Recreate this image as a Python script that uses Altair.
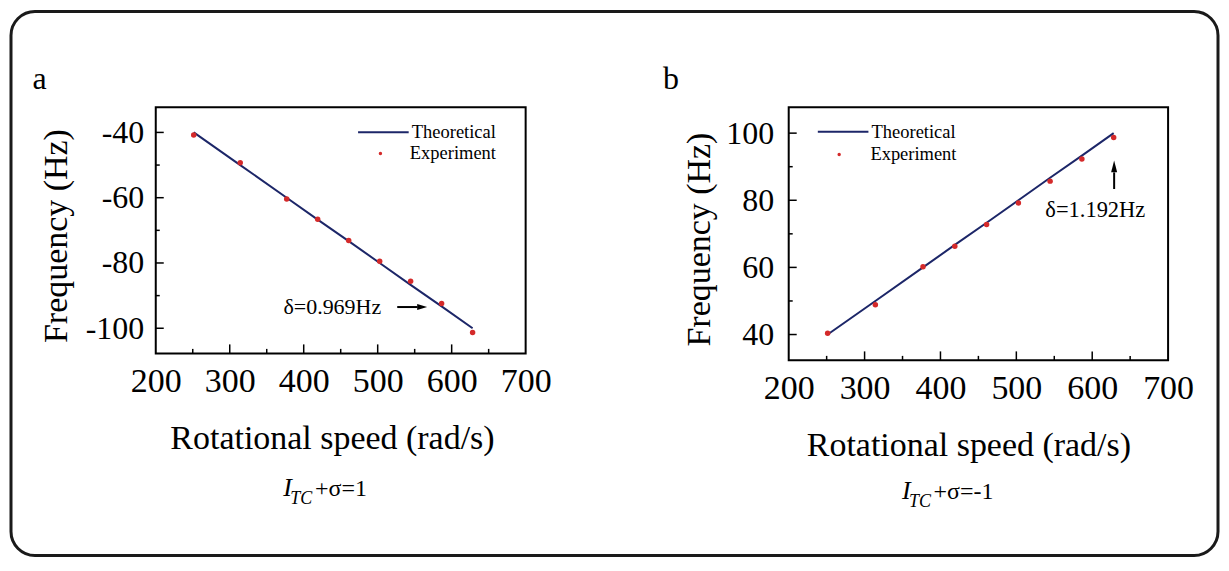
import altair as alt
import pandas as pd

# ---------------- data ----------------
speed = [251.3, 314.2, 377.0, 418.9, 460.8, 502.7, 544.5, 586.4, 628.3]
theory_a = [-40.0, -50.0, -60.0, -66.7, -73.3, -80.0, -86.7, -93.3, -100.0]
exp_a = [-40.8, -49.3, -60.4, -66.6, -73.1, -79.5, -85.6, -92.4, -101.3]
theory_b = [40.0, 50.0, 60.0, 66.7, 73.3, 80.0, 86.7, 93.3, 100.0]
exp_b = [40.4, 48.9, 60.2, 66.3, 72.8, 79.2, 85.7, 92.3, 98.7]

x_labels = [200, 300, 400, 500, 600, 700]
x_major = [300, 400, 500, 600]
x_minor = [250, 350, 450, 550, 650]
ya_major = [-40, -60, -80, -100]
ya_minor = [-50, -70, -90]
yb_major = [40, 60, 80, 100]
yb_minor = [50, 70, 90]
ya_domain = [-107.7, -32.3]
yb_domain = [32.3, 107.7]
x_domain = [200, 700]

ann_a_label = ["δ=0.969Hz"]
ann_a_x = [372.6]
ann_a_y = [-93.4]
arrow_a_x = [526.4]
arrow_a_x2 = [553.8]
arrow_a_y = [-93.5]
head_a_x = [560.1]
head_a_y = [-93.5]

ann_b_label = ["δ=1.192Hz"]
ann_b_x = [538.2]
ann_b_y = [77.0]
arrow_b_x = [628.9]
arrow_b_y = [83.35]
arrow_b_y2 = [88.3]
head_b_x = [628.9]
head_b_y = [90.1]

FONT = "Liberation Serif"
LINE_COLOR = "#1c2668"
DOT_COLOR = "#d42a2a"
one = pd.DataFrame({"k": [0]})


def panel(theory, exp, ydom, ymaj, ymin, W, H, cfg):
    xs = alt.Scale(domain=x_domain, nice=False, zero=False)
    ys = alt.Scale(domain=ydom, nice=False, zero=False)
    df = pd.DataFrame({"speed": speed, "theory": theory, "exp": exp,
                       "s1": ["Theoretical"] * len(speed),
                       "s2": ["Experiment"] * len(speed)})
    xaxis = alt.Axis(values=x_labels, ticks=False, tickSize=0, domain=False, grid=False,
                     labelFlush=False, labelPadding=38.5, labelBaseline="alphabetic",
                     labelFont=FONT, labelFontSize=34, labelColor="black",
                     title="Rotational speed (rad/s)", titleFont=FONT, titleFontSize=34,
                     titleFontWeight="normal", titleColor="black",
                     titleX=cfg["xtx"], titleY=95, titleBaseline="alphabetic",
                     titleAlign="center")
    yaxis = alt.Axis(values=ymaj, ticks=False, tickSize=0, domain=False, grid=False,
                     labelPadding=cfg["ylp"], labelFont=FONT, labelFontSize=32,
                     labelColor="black", labelExpr="'' + datum.value",
                     title="Frequency (Hz)", titleFont=FONT, titleFontSize=34,
                     titleFontWeight="normal", titleColor="black", titleAngle=270,
                     titleX=cfg["ytx"], titleY=cfg["yty"], titleBaseline="alphabetic",
                     titleAlign="center")

    def X(f):
        return alt.X(f, scale=xs, axis=xaxis)

    def Y(f):
        return alt.Y(f, scale=ys, axis=yaxis)

    line = alt.Chart(df).mark_line(strokeWidth=2).encode(
        x=X("speed:Q"), y=Y("theory:Q"),
        color=alt.Color("s1:N", scale=alt.Scale(domain=["Theoretical"], range=[LINE_COLOR]),
                        legend=alt.Legend(orient="none", legendX=cfg["l1x"], legendY=cfg["l1y"],
                                          title=None, padding=0, symbolType="stroke",
                                          symbolSize=2570, symbolStrokeWidth=2,
                                          labelOffset=2, labelFont=FONT, labelFontSize=18.5,
                                          labelColor="black", labelLimit=300)),
    )
    pts = alt.Chart(df).mark_circle(size=30, opacity=1).encode(
        x=X("speed:Q"), y=Y("exp:Q"),
        fill=alt.Fill("s2:N", scale=alt.Scale(domain=["Experiment"], range=[DOT_COLOR]),
                      legend=alt.Legend(orient="none", legendX=cfg["l2x"], legendY=cfg["l2y"],
                                        title=None, padding=0, symbolType="circle",
                                        symbolSize=12, symbolStrokeWidth=0,
                                        labelOffset=cfg["l2off"], labelFont=FONT,
                                        labelFontSize=18.5, labelColor="black", labelLimit=300)),
    )

    def xticks(vals, L):
        return alt.Chart(pd.DataFrame({"t": vals})).mark_rule(color="black", strokeWidth=1.5).encode(
            x=X("t:Q"), y=alt.value(H), y2=alt.value(H - L))

    def yticks(vals, L):
        return alt.Chart(pd.DataFrame({"t": vals})).mark_rule(color="black", strokeWidth=1.5).encode(
            y=Y("t:Q"), x=alt.value(0), x2=alt.value(L))

    adf = pd.DataFrame({"x": cfg["ann_x"], "y": cfg["ann_y"], "label": cfg["ann_label"]})
    ann = alt.Chart(adf).mark_text(align="left", baseline="middle", font=FONT,
                                   fontSize=cfg["ann_fs"], color="black").encode(
        x=X("x:Q"), y=Y("y:Q"), text="label:N")
    shaft = alt.Chart(pd.DataFrame(cfg["shaft"])).mark_rule(color="black", strokeWidth=2).encode(
        x=X("x:Q"), x2="x2:Q", y=Y("y:Q"), y2="y2:Q")
    head = alt.Chart(pd.DataFrame({"x": cfg["head_x"], "y": cfg["head_y"]})).mark_point(
        shape=cfg["head_shape"], filled=True, size=cfg["head_size"], color="black", opacity=1,
        strokeWidth=0).encode(x=X("x:Q"), y=Y("y:Q"))

    letter = alt.Chart(one).mark_text(align="left", baseline="alphabetic", font=FONT,
                                      fontSize=32, color="black").encode(
        x=alt.value(cfg["let_x"]), y=alt.value(cfg["let_y"]), text=alt.value(cfg["letter"]))
    sub_i = alt.Chart(one).mark_text(align="left", baseline="alphabetic", font=FONT,
                                     fontSize=26, fontStyle="italic", color="black").encode(
        x=alt.value(cfg["sub_x"]), y=alt.value(cfg["sub_y"]), text=alt.value("I"))
    sub_tc = alt.Chart(one).mark_text(align="left", baseline="alphabetic", font=FONT,
                                      fontSize=18, fontStyle="italic", color="black").encode(
        x=alt.value(cfg["sub_x"] + 7), y=alt.value(cfg["sub_y"] + 8), text=alt.value("TC"))
    sub_rest = alt.Chart(one).mark_text(align="left", baseline="alphabetic", font=FONT,
                                        fontSize=24, color="black").encode(
        x=alt.value(cfg["sub_rx"]), y=alt.value(cfg["sub_y"]), text=alt.value(cfg["sub_text"]))

    layers = []
    if cfg.get("border"):
        layers.append(alt.Chart(one).mark_rect(fillOpacity=0, stroke="#1a1a1a", strokeWidth=3,
                                               cornerRadius=24).encode(
            x=alt.value(-145), x2=alt.value(1064), y=alt.value(-96), y2=alt.value(449)))
    layers += [line, pts, xticks(x_major, 9), xticks(x_minor, 4.5), yticks(ymaj, 8),
               yticks(ymin, 4), ann, shaft, head, letter, sub_i, sub_tc, sub_rest]
    return alt.layer(*layers).properties(width=W, height=H)


cfg_a = dict(xtx=176.5, ylp=12, ytx=-89.5, yty=128.5,
             l1x=201.5, l1y=-1.5, l2x=215.8, l2y=37, l2off=20.2,
             ann_x=ann_a_x, ann_y=ann_a_y, ann_label=ann_a_label, ann_fs=22,
             shaft={"x": arrow_a_x, "x2": arrow_a_x2, "y": arrow_a_y, "y2": arrow_a_y},
             head_x=head_a_x, head_y=head_a_y, head_shape="M -1 -0.6 L 1 0 L -1 0.6 Z",
             head_size=100, let_x=-123.5, let_y=-18.8, letter="a",
             sub_x=127.7, sub_y=389.5, sub_rx=159.5, sub_text="+σ=1", border=True)
cfg_b = dict(xtx=180, ylp=15, ytx=-79.5, yty=132,
             l1x=28, l1y=-2, l2x=41.3, l2y=38, l2off=22,
             ann_x=ann_b_x, ann_y=ann_b_y, ann_label=ann_b_label, ann_fs=22.5,
             shaft={"x": arrow_b_x, "x2": arrow_b_x, "y": arrow_b_y, "y2": arrow_b_y2},
             head_x=head_b_x, head_y=head_b_y, head_shape="M -0.5 1 L 0 -1 L 0.5 1 Z",
             head_size=144, let_x=-126, let_y=-18.3, letter="b",
             sub_x=113.4, sub_y=392, sub_rx=145, sub_text="+σ=-1")

pa = panel(theory_a, exp_a, ya_domain, ya_major, ya_minor, 370.5, 246.5, cfg_a)
pb = panel(theory_b, exp_b, yb_domain, yb_major, yb_minor, 380, 253.5, cfg_b)

chart = alt.hconcat(pa, pb, spacing=263, bounds="flush").resolve_scale(
    color="independent", fill="independent").resolve_legend(
    color="independent", fill="independent").properties(
    padding=0, background="white").configure(font=FONT).configure_axis(
    labelFont=FONT, titleFont=FONT, titleFontWeight="normal").configure_legend(
    labelFont=FONT).configure_text(font=FONT).configure_view(stroke="black", strokeWidth=2)

chart.save("out.html", embed_options={"renderer": "svg", "actions": False})
